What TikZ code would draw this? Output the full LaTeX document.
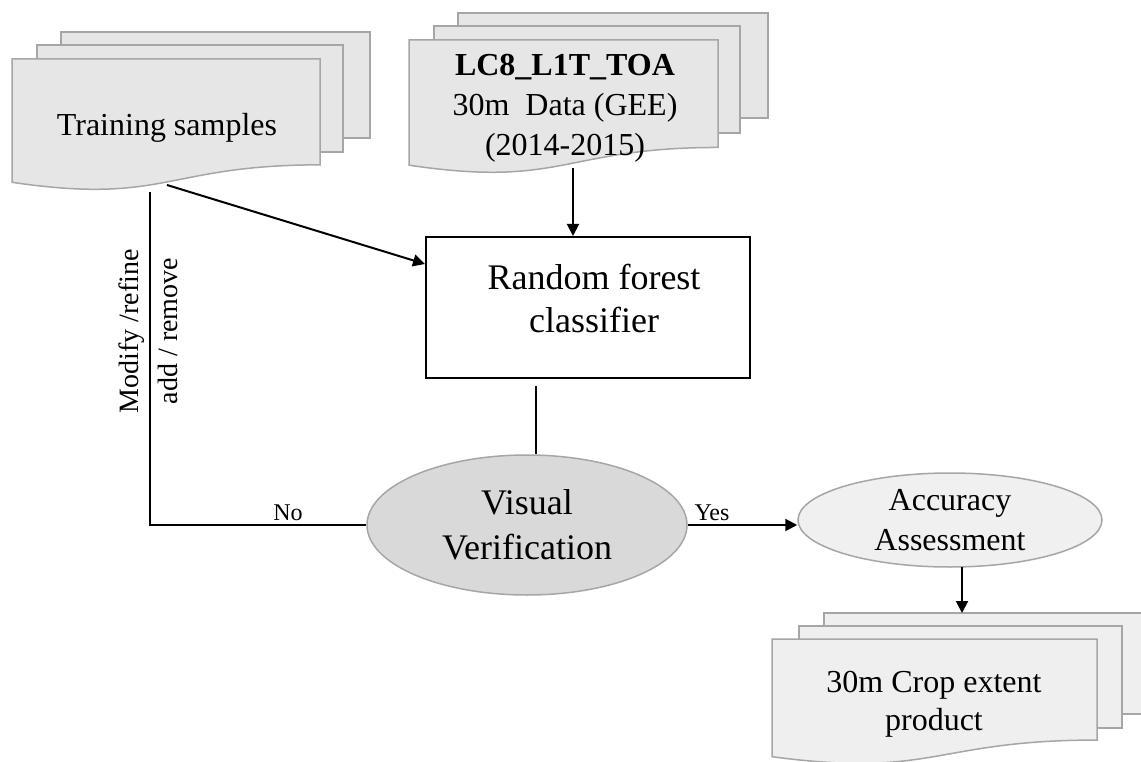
\documentclass[tikz,border=0pt]{standalone}
\usepackage{fontspec}
\setmainfont{Liberation Serif}
\usetikzlibrary{shapes.geometric,arrows.meta,calc}
\definecolor{sheetfill}{HTML}{E6E6E6}
\definecolor{sheetdraw}{HTML}{A6A6A6}
\definecolor{cropfill}{HTML}{EFEFEF}
\definecolor{vvfill}{HTML}{D9D9D9}
\definecolor{aafill}{HTML}{F0F0F0}
\tikzset{
  sheet/.style={fill=sheetfill, draw=sheetdraw, line width=1.5pt, line join=miter},
  cropsheet/.style={fill=cropfill, draw=sheetdraw, line width=1.5pt, line join=miter},
  conn/.style={line width=2pt, draw=black},
  arr/.style={conn, -{Triangle[length=12pt,width=12pt]}},
  txtbig/.style={font=\fontsize{32}{40}\selectfont, inner sep=0pt, align=center},
  lbl/.style={font=\fontsize{24}{28}\selectfont, inner sep=0pt},
  rotlbl/.style={font=\fontsize{28}{32}\selectfont, inner sep=0pt, rotate=90},
  rfbox/.style={draw=black, line width=2pt, fill=white, minimum width=324pt, minimum height=141pt,
    inner sep=0pt, align=center, font=\fontsize{36}{43}\selectfont},
  vvell/.style={ellipse, fill=vvfill, draw=sheetdraw, line width=1.5pt, minimum width=320pt,
    minimum height=140pt, inner sep=0pt, align=center, font=\fontsize{36}{45}\selectfont},
  aaell/.style={ellipse, fill=aafill, draw=sheetdraw, line width=1.5pt, minimum width=304pt,
    minimum height=94pt, inner sep=0pt, align=center, font=\fontsize{32}{40}\selectfont},
}
% front document sheet: style, x, y, w, h
\newcommand\docfront[5]{%
  \path[#1] (#2,{#3+0.934*#5}) -- (#2,#3) -- ({#2+#4},#3) -- ({#2+#4},{#3+0.802*#5})
    .. controls ({#2+#4/2},{#3+0.802*#5}) and ({#2+#4/2},{#3+1.107*#5}) .. (#2,{#3+0.934*#5}) -- cycle;}
% back document sheet: style, x1, y1, x2, y2
\newcommand\docback[5]{\path[#1] (#2,#3) rectangle (#4,#5);}
\begin{document}
\begin{tikzpicture}[x=1pt,y=-1pt]
\useasboundingbox (0,0) rectangle (1141,762);
\clip (0,0) rectangle (1141,762);
\fill[white] (0,0) rectangle (1141,762);

% Training samples stack
\docback{sheet}{61}{32}{370}{138}
\docback{sheet}{37}{45}{343}{152}
\docfront{sheet}{12}{59}{308}{132}
\node[txtbig] (ts) at (167,127.5) {Training samples};

% LC8 stack
\docback{sheet}{458}{13}{768}{118}
\docback{sheet}{434}{26}{740}{133}
\docfront{sheet}{409}{40}{309}{134}
\node[txtbig] (lc) at (565,108) {\textbf{LC8\_L1T\_TOA}\\30m\ \ Data (GEE)\\(2014-2015)};

% Crop extent stack
\docback{cropsheet}{824}{613}{1150}{714}
\docback{cropsheet}{799}{626}{1122}{728}
\docfront{cropsheet}{772}{639}{325}{126}
\node[txtbig, font=\fontsize{32}{38}\selectfont] (cp) at (934,704) {30m Crop extent\\product};

% main nodes
\node[rfbox] (rf) at (588,307.5) {\hspace*{12pt}Random forest\\\hspace*{12pt}classifier\rule[-19pt]{0pt}{0pt}};
\node[vvell] (vv) at (527,525) {Visual\\Verification};
\node[aaell] (aa) at (950,520) {Accuracy\\Assessment};

% connector end points
\coordinate (tsA) at (167,185);
\coordinate (tsB) at (150,192);
\coordinate (lcA) at (573,168);
\coordinate (rfB) at (536,386);
\coordinate (aaB) at (962,567);
\coordinate (cpT) at (962,613);

% connectors
\draw[arr] (tsA) -- ([yshift=-28pt]rf.north west);
\draw[arr] (lcA) -- (lcA |- rf.north);
\draw[conn] (rfB) -- (rfB |- vv.north);
\draw[conn] (tsB) |- (vv.west);
\draw[arr] (vv.east) -- (vv.east -| aa.west);
\draw[arr] (aaB) -- (cpT);

% labels
\node[lbl] (no) at (288,513) {No};
\node[lbl] (yes) at (712,513) {Yes};
\node[rotlbl] (mr) at (131.5,331.5) {Modify /refine};
\node[rotlbl] (ar) at (167.5,331) {add / remove};
\end{tikzpicture}
\end{document}
